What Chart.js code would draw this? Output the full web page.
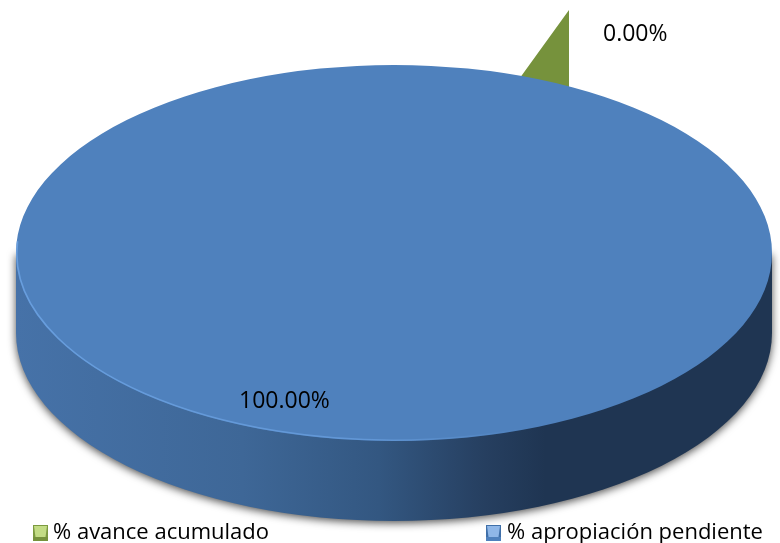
<!DOCTYPE html>
<html>
<head>
<meta charset="utf-8">
<style>html,body{margin:0;padding:0;background:#fff}canvas{display:block}</style>
<script src="https://cdn.jsdelivr.net/npm/chart.js@4/dist/chart.umd.min.js"></script>
</head>
<body>
<canvas id="c" width="780" height="543"></canvas>
<script>
const categories = ['% avance acumulado', '% apropiación pendiente'];
const values = [0.00, 100.00];
const sliceColors = ['#76923C', '#4F81BD'];
const markerLight = ['#C3DC85', '#8FB7E8'];
const markerDark = ['#7C9A40', '#3F6FA8'];
const VALUE_FONT = '23px "Open Sans"';
const LEGEND_FONT = '22px "Open Sans"';
const E = {cx: 394, cy: 253, rx: 378, ry: 188, depth: 80};
const W = {x: 569, y: 10, ex: -47, ey: 65, reach: 100};
const labelPos = [[603, 41], [239, 408]];
const legendPos = [[33, 525, 53], [486, 525, 507]];
let tf = null;

const pie3d = {
  id: 'pie3d',
  beforeDatasetsDraw(chart) {
    const ctx = chart.ctx;
    const meta = chart.getDatasetMeta(0);
    const blue = meta.data[1], green = meta.data[0];
    const r = blue.outerRadius;
    if (!tf) tf = {sx: E.rx / r, sy: E.ry / r, ax: blue.x, ay: blue.y};
    // side wall + soft shadow
    ctx.save();
    ctx.beginPath();
    ctx.moveTo(E.cx - E.rx, E.cy);
    ctx.lineTo(E.cx - E.rx, E.cy + E.depth);
    ctx.ellipse(E.cx, E.cy + E.depth, E.rx, E.ry, 0, Math.PI, 0, true);
    ctx.lineTo(E.cx + E.rx, E.cy);
    ctx.closePath();
    const g = ctx.createLinearGradient(E.cx - E.rx, 0, E.cx + E.rx, 0);
    g.addColorStop(0, '#4672A8');
    g.addColorStop(0.3, '#3E6797');
    g.addColorStop(0.48, '#335781');
    g.addColorStop(0.62, '#263F60');
    g.addColorStop(0.7, '#1F3552');
    g.addColorStop(1, '#1F3552');
    ctx.fillStyle = g;
    ctx.shadowColor = 'rgba(0,0,0,0.7)';
    ctx.shadowBlur = 8;
    ctx.shadowOffsetY = 2;
    ctx.fill();
    ctx.restore();
    // exploded wedge geometry, in the squashed pie space
    const dx = W.ex / tf.sx, dy = W.ey / tf.sy;
    green.x = tf.ax + (W.x - E.cx) / tf.sx;
    green.y = tf.ay + (W.y - E.cy) / tf.sy;
    green.startAngle = Math.PI / 2;
    green.endAngle = Math.atan2(dy, dx);
    green.circumference = green.endAngle - green.startAngle;
    green.innerRadius = 0;
    green.outerRadius = W.reach / tf.sy * 1.5;
    ctx.save();
    ctx.translate(E.cx, E.cy);
    ctx.scale(tf.sx, tf.sy);
    ctx.translate(-tf.ax, -tf.ay);
  },
  afterDatasetsDraw(chart) {
    const ctx = chart.ctx;
    ctx.restore();
    // bevel rim of the top face
    ctx.save();
    const rim = ctx.createLinearGradient(E.cx - E.rx, 0, E.cx + 130, 0);
    rim.addColorStop(0, 'rgba(110,165,230,0.8)');
    rim.addColorStop(0.7, 'rgba(110,165,230,0.6)');
    rim.addColorStop(1, 'rgba(110,165,230,0)');
    ctx.strokeStyle = rim;
    ctx.lineWidth = 1.6;
    ctx.beginPath();
    ctx.ellipse(E.cx, E.cy, E.rx - 0.8, E.ry - 0.8, 0, Math.PI * 0.35, Math.PI * 1.02);
    ctx.stroke();
    ctx.restore();
    // value labels
    ctx.save();
    ctx.font = VALUE_FONT;
    ctx.fillStyle = '#000';
    ctx.textAlign = 'left';
    ctx.textBaseline = 'alphabetic';
    values.forEach((v, i) => ctx.fillText(v.toFixed(2) + '%', labelPos[i][0], labelPos[i][1]));
    // legend
    ctx.font = LEGEND_FONT;
    categories.forEach((t, i) => {
      const [bx, by, tx] = legendPos[i];
      const s = 15;
      ctx.fillStyle = markerDark[i];
      ctx.fillRect(bx, by, s, s + 1);
      ctx.fillStyle = sliceColors[i];
      ctx.fillRect(bx, by + s - 3, s, 4);
      ctx.fillStyle = markerLight[i];
      ctx.beginPath();
      ctx.moveTo(bx + 1, by + 1);
      ctx.lineTo(bx + s - 1, by + 1);
      ctx.lineTo(bx + s - 2.5, by + s - 3);
      ctx.lineTo(bx + 2.5, by + s - 3);
      ctx.closePath();
      ctx.fill();
      ctx.fillStyle = '#000';
      ctx.fillText(t, tx, 539);
    });
    ctx.restore();
  }
};

new Chart(document.getElementById('c'), {
  type: 'pie',
  data: {
    labels: categories,
    datasets: [{data: values, backgroundColor: sliceColors, borderWidth: 0, clip: false}]
  },
  options: {
    responsive: false,
    animation: false,
    layout: {padding: 0},
    plugins: {legend: {display: false}, tooltip: {enabled: false}}
  },
  plugins: [pie3d]
});
</script>
</body>
</html>
